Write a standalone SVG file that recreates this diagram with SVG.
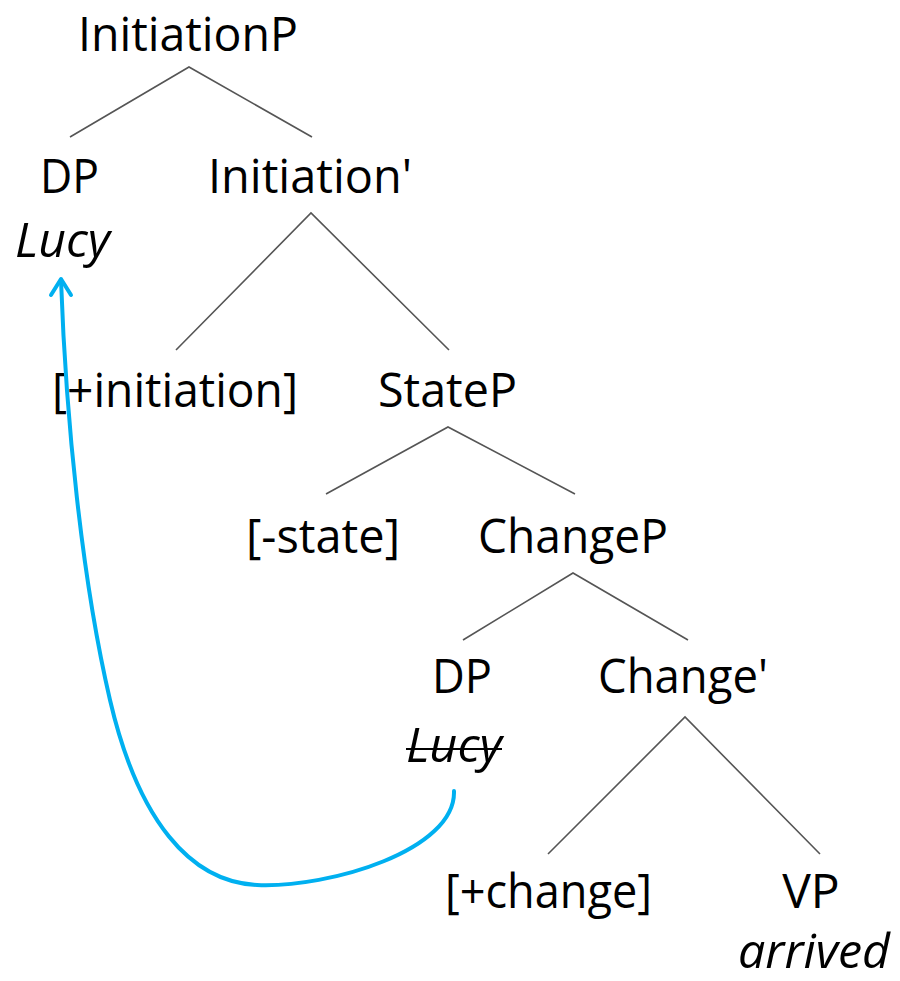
<svg xmlns="http://www.w3.org/2000/svg" width="900" height="981" viewBox="0 0 900 981">
  <style>
    text { font-family: "Open Sans", "Liberation Sans", sans-serif; font-size: 48px; fill: #000; }
    .it { font-style: italic; }
    .branch { stroke: #555; stroke-width: 1.6; fill: none; }
    .move { stroke: #00B0F0; stroke-width: 4; fill: none; stroke-linecap: round; stroke-linejoin: round; }
  </style>
  <rect width="900" height="981" fill="#fff"/>

  <g id="initiationP"><text x="78" y="51" textLength="220" lengthAdjust="spacingAndGlyphs">InitiationP</text></g>
  <g id="dp-top">
    <text x="40" y="193" textLength="59" lengthAdjust="spacingAndGlyphs">DP</text>
    <text class="it" x="15" y="257" textLength="95" lengthAdjust="spacingAndGlyphs">Lucy</text>
  </g>
  <g id="initiation-bar"><text x="208" y="193" textLength="204" lengthAdjust="spacingAndGlyphs">Initiation'</text></g>
  <g id="initiation-feature"><text x="52" y="407" textLength="246" lengthAdjust="spacingAndGlyphs">[+initiation]</text></g>
  <g id="stateP"><text x="378" y="407" textLength="139" lengthAdjust="spacingAndGlyphs">StateP</text></g>
  <g id="state-feature"><text x="246" y="553" textLength="154" lengthAdjust="spacingAndGlyphs">[-state]</text></g>
  <g id="changeP"><text x="478" y="553" textLength="190" lengthAdjust="spacingAndGlyphs">ChangeP</text></g>
  <g id="dp-low">
    <text x="432" y="693" textLength="60" lengthAdjust="spacingAndGlyphs">DP</text>
    <text class="it" x="406" y="762" textLength="96" lengthAdjust="spacingAndGlyphs">Lucy</text>
    <line x1="406" y1="749" x2="502" y2="749" stroke="#000" stroke-width="2"/>
  </g>
  <g id="change-bar"><text x="598" y="693" textLength="170" lengthAdjust="spacingAndGlyphs">Change'</text></g>
  <g id="change-feature"><text x="445" y="908" textLength="207" lengthAdjust="spacingAndGlyphs">[+change]</text></g>
  <g id="vp">
    <text x="811" y="908" text-anchor="middle">VP</text>
    <text class="it" x="738" y="968" textLength="152" lengthAdjust="spacingAndGlyphs">arrived</text>
  </g>

  <g id="connectors">
    <polyline class="branch" points="70,137 189,67 312,137"/>
    <polyline class="branch" points="176,350 311,213 449,350"/>
    <polyline class="branch" points="326,494 448,427 575,494"/>
    <polyline class="branch" points="463,640 573,573 688,640"/>
    <polyline class="branch" points="548,854 685,717 820,854"/>
    <path class="move" d="M454,791 C456,850 330,888 257,885 C190,882 138,820 110,700 C82,580 66,420 61,280"/>
    <polyline class="move" points="51,295 61,279 71,295"/>
  </g>
</svg>
